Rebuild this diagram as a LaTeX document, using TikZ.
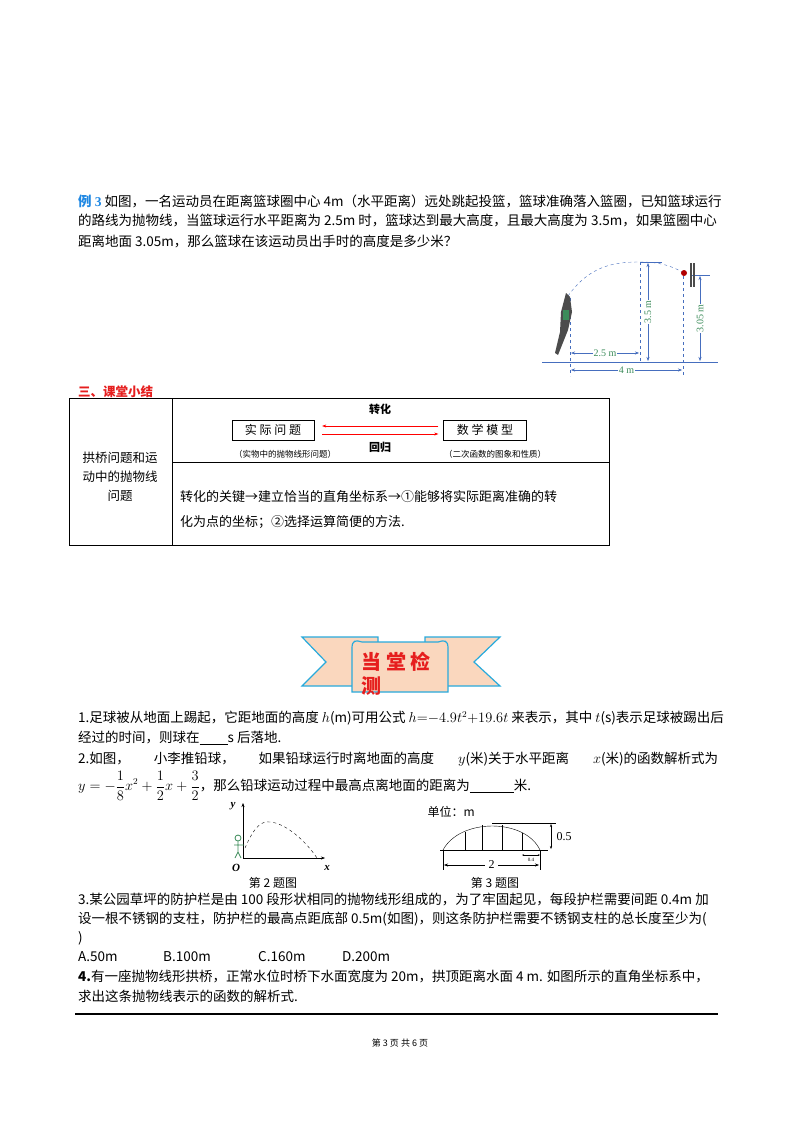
\documentclass[tikz,border=0pt]{standalone}
\usepackage{fontspec}
\setmainfont{Noto Sans CJK SC}
\newfontfamily\lat{Liberation Serif}
\usetikzlibrary{arrows.meta}
\definecolor{bl}{RGB}{70,110,190}
\definecolor{gr}{RGB}{60,140,90}
\definecolor{peach}{RGB}{250,215,190}
\definecolor{cy}{RGB}{40,170,220}
\definecolor{rd}{RGB}{230,30,30}
\tikzset{txt/.style={anchor=west,inner sep=0pt,font=\fontsize{13.5}{16}\selectfont},
 lbl/.style={inner sep=1pt,font=\fontsize{10}{12}\selectfont\lat},
 dim/.style={bl,{Stealth[length=4pt]}-{Stealth[length=4pt]}},
 bx/.style={draw,thin,inner sep=3pt,font=\fontsize{12}{14}\selectfont}}
\begin{document}
\begin{tikzpicture}[x=1pt,y=-1pt]
\useasboundingbox[fill=white] (0,0) rectangle (800,1132);
% Example 3
\node[txt] (e1) at (78,201) {{\color{cy!80!blue}\bfseries 例 {\lat 3}} 如图，一名运动员在距离篮球圈中心 4m（水平距离）远处跳起投篮，篮球准确落入篮圈，已知篮球运行};
\node[txt] (e2) at (78,221) {的路线为抛物线，当篮球运行水平距离为 2.5m 时，篮球达到最大高度，且最大高度为 3.5m，如果篮圈中心};
\node[txt] (e3) at (78,242) {距离地面 3.05m，那么篮球在该运动员出手时的高度是多少米？};
% basketball figure
\coordinate (g1) at (542,362); \coordinate (g2) at (718,362);
\draw[bl,thick] (g1) -- (g2);
\coordinate (hand) at (568,296); \coordinate (top) at (640,262); \coordinate (hoop) at (684,273);
\draw[bl,dashed] (hand) .. controls (590,265) and (615,262) .. (top) .. controls (660,262) and (672,266) .. (hoop);
\draw[bl,dashed] (640,262) -- (640,362);
\draw[bl,dashed] (570,298) -- (570,376);
\draw[bl,dashed] (683,276) -- (683,376);
\draw[bl] (640,262) -- (662,262);
\draw[bl] (690,275) -- (710,275);
\draw[dim] (648,263) -- (648,361) node[midway,fill=white,rotate=90,text=gr,lbl]{3.5 m};
\draw[dim] (700,276) -- (700,361) node[midway,fill=white,rotate=90,text=gr,lbl]{3.05 m};
\draw[dim] (571,353) -- (639,353) node[midway,fill=white,text=gr,lbl]{2.5 m};
\draw[dim] (571,370) -- (682,370) node[midway,fill=white,text=gr,lbl]{4 m};
\draw[black!70,line width=1.2pt] (691,263) -- (691,287) (694,263) -- (694,287);
\fill[red!70!black] (684,273) circle (3);
% player
\fill[black!70] (566,293) -- (570,297) -- (572,312) -- (568,330) -- (562,345) -- (558,355) -- (555,353) -- (560,332) -- (561,312) -- cycle;
\fill[gr] (563,310) rectangle (569,320);
% section title
\node[txt,text=rd,font=\fontsize{12.5}{14}\selectfont\bfseries] (sec) at (78,392) {三、课堂小结};
% table
\draw[thin] (69,398) rectangle (609,545);
\draw[thin] (172,398) -- (172,545);
\draw[thin] (172,462) -- (609,462);
\node[align=center,font=\fontsize{12.5}{19}\selectfont] (lc) at (120,477) {拱桥问题和运\\动中的抛物线\\问题};
\node[font=\fontsize{11}{13}\selectfont\bfseries] (zh) at (380,409) {转化};
\node[bx,minimum width=82pt,minimum height=20pt] (b1) at (273,430) {实 际 问 题};
\node[bx,minimum width=83pt,minimum height=20pt] (b2) at (485,430) {数 学 模 型};
\draw[red,-{Stealth[length=4pt]}] ([yshift=-4pt,xshift=8pt]b1.east) -- ([yshift=-4pt,xshift=-5pt]b2.west);
\draw[red,-{Stealth[length=4pt]}] ([yshift=4pt,xshift=-5pt]b2.west) -- ([yshift=4pt,xshift=8pt]b1.east);
\node[font=\fontsize{11}{13}\selectfont\bfseries] (hg) at (380,447) {回归};
\node[font=\fontsize{8.5}{10}\selectfont] (c1) at (285,454) {（实物中的抛物线形问题）};
\node[font=\fontsize{8.5}{10}\selectfont] (c2) at (495,454) {（二次函数的图象和性质）};
\node[txt,font=\fontsize{13}{16}\selectfont] (k1) at (180,497) {转化的关键→建立恰当的直角坐标系→①能够将实际距离准确的转};
\node[txt,font=\fontsize{13}{16}\selectfont] (k2) at (180,522) {化为点的坐标；②选择运算简便的方法.};
% banner
\begin{scope}[draw=cy,fill=peach,line width=1.2pt]
\filldraw (302,637) -- (378,637) -- (378,686) -- (302,686) -- (326,662) -- cycle;
\filldraw (500,637) -- (425,637) -- (425,686) -- (500,686) -- (474,662) -- cycle;
\filldraw (352,648) .. controls (352,640) and (356,640) .. (362,642) -- (438,642) .. controls (444,640) and (448,640) .. (448,648) -- (448,692) -- (352,692) -- cycle;
\end{scope}
\node[anchor=west,text=rd,font=\fontsize{20}{22}\selectfont\bfseries] (bt1) at (358,662) {当 堂 检};
\node[anchor=west,text=rd,font=\fontsize{20}{22}\selectfont\bfseries] (bt2) at (358,686) {测};
% questions
\node[txt] (q1a) at (78,718) {1.足球被从地面上踢起，它距地面的高度 $h$(m)可用公式 $h{=}{-}4.9t^2{+}19.6t$ 来表示，其中 $t$(s)表示足球被踢出后};
\node[txt] (q1b) at (78,738) {经过的时间，则球在\underline{\hspace{28pt}}s 后落地.};
\node[txt] (q2a) at (78,759) {\makebox[640pt][s]{2.如图， 小李推铅球， 如果铅球运行时离地面的高度 $y$(米)关于水平距离 $x$(米)的函数解析式为}};
\node[txt] (q2b) at (78,786) {$\displaystyle y=-\frac{1}{8}x^2+\frac{1}{2}x+\frac{3}{2}$，那么铅球运动过程中最高点离地面的距离为\underline{\hspace{44pt}}米.};
% fig 2
\coordinate (O) at (243,858);
\draw[-{Stealth[length=4pt]}] (O) -- (243,803);
\draw[-{Stealth[length=4pt]}] (O) -- (325,858);
\node[font=\fontsize{11}{12}\selectfont\bfseries\itshape\lat] (ly) at (233,806) {y};
\node[font=\fontsize{11}{12}\selectfont\bfseries\itshape\lat] (lo) at (236,868) {O};
\node[font=\fontsize{11}{12}\selectfont\bfseries\itshape\lat] (lx) at (327,868) {x};
\draw[dashed] (245,848) .. controls (255,825) and (262,821) .. (270,822) .. controls (285,823) and (305,840) .. (317,858);
\draw[gr,thick] (238,838) circle (3) (238,841) -- (238,852) -- (235,858) (238,852) -- (241,858) (234,845) -- (244,845);
\node[font=\fontsize{12}{14}\selectfont] (cap2) at (273,883) {第 2 题图};
% fig 3
\node[anchor=west,font=\fontsize{12}{14}\selectfont] (unit) at (424,812) {单位：m};
\draw (440,850) -- (548,850);
\draw (443,850) .. controls (460,818) and (525,818) .. (540,850);
\foreach \xx/\yy in {465/832,482/825,502/825,522/833} \draw (\xx,850) -- (\xx,\yy);
\draw (492,823) -- (556,823);
\draw[{Stealth[length=3pt]}-{Stealth[length=3pt]}] (551,824) -- (551,849);
\node[anchor=west,font=\fontsize{12}{14}\selectfont\lat] (h05) at (553,837) {0.5};
\draw (443,850) -- (443,870) (540,850) -- (540,870);
\draw[{Stealth[length=4pt]}-{Stealth[length=4pt]}] (444,865) -- (539,865) node[midway,fill=white,font=\fontsize{12}{14}\selectfont\lat]{2};
\draw[{Stealth[length=2pt]}-{Stealth[length=2pt]}] (522,855) -- (540,855);
\node[font=\fontsize{5}{6}\selectfont\lat] (w04) at (531,860) {0.4};
\node[font=\fontsize{12}{14}\selectfont] (cap3) at (495,883) {第 3 题图};
\node[txt] (q3a) at (78,899) {3.某公园草坪的防护栏是由 100 段形状相同的抛物线形组成的，为了牢固起见，每段护栏需要间距 0.4m 加};
\node[txt] (q3b) at (78,919) {设一根不锈钢的支柱，防护栏的最高点距底部 0.5m(如图)，则这条防护栏需要不锈钢支柱的总长度至少为(};
\node[txt] (q3c) at (78,938) {)};
\node[txt] (oa) at (78,957) {A.50m};
\node[txt] (ob) at (163,957) {B.100m};
\node[txt] (oc) at (258,957) {C.160m};
\node[txt] (od) at (342,957) {D.200m};
\node[txt] (q4a) at (78,976) {\textbf{4.}有一座抛物线形拱桥，正常水位时桥下水面宽度为 20m，拱顶距离水面 4 m. 如图所示的直角坐标系中，};
\node[txt] (q4b) at (78,996) {求出这条抛物线表示的函数的解析式.};
\draw[line width=1.3pt] (75,1014) -- (718,1014);
\node[font=\fontsize{9}{10}\selectfont] (ft) at (400,1043) {第 3 页 共 6 页};
\end{tikzpicture}
\end{document}
